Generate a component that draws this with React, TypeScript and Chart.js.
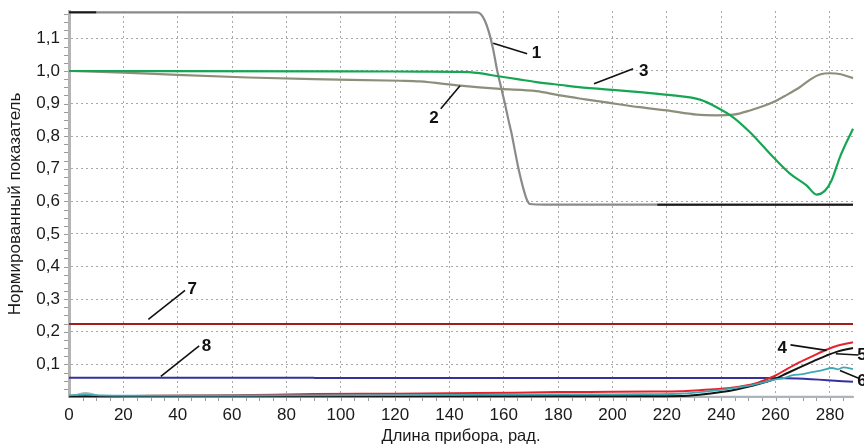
import React, { useEffect, useRef } from 'react';
import { Chart, registerables } from 'chart.js';

Chart.register(...registerables);

// ---- data ----
const xTickValues = [0, 20, 40, 60, 80, 100, 120, 140, 160, 180, 200, 220, 240, 260, 280];
const yTickValues = [0.1, 0.2, 0.3, 0.4, 0.5, 0.6, 0.7, 0.8, 0.9, 1.0, 1.1];

const curve1X = [0, 150, 151.5, 153, 154.5, 156, 157.6, 159, 160.4, 161.7, 162.9, 164.1, 165.3, 166.4, 167.4, 168.5, 169.6, 175, 288.5];
const curve1Y = [1.18, 1.18, 1.175, 1.155, 1.12, 1.07, 1.0, 0.95, 0.9, 0.85, 0.807, 0.755, 0.705, 0.665, 0.633, 0.605, 0.592, 0.59, 0.59];

const curve2X = [0, 20, 40, 66, 90, 122, 129, 144, 158.6, 172, 180.6, 190, 199, 210, 220, 231, 238, 244.4, 250.6, 259, 264, 268.9, 273, 276.3, 280, 284, 288.5];
const curve2Y = [1.0, 0.995, 0.988, 0.98, 0.975, 0.97, 0.968, 0.955, 0.945, 0.938, 0.925, 0.913, 0.902, 0.889, 0.879, 0.866, 0.864, 0.866, 0.879, 0.904, 0.926, 0.95, 0.975, 0.989, 0.993, 0.99, 0.978];

const curve3X = [0, 100, 129, 144, 150, 158.6, 165, 172, 181, 190.5, 200, 210, 222.3, 232.2, 238.3, 244.4, 250.6, 259.1, 265.3, 271.4, 275.1, 278.2, 280.6, 283.7, 288.5];
const curve3Y = [1.0, 0.999, 0.998, 0.997, 0.994, 0.983, 0.975, 0.966, 0.957, 0.948, 0.942, 0.935, 0.925, 0.912, 0.889, 0.858, 0.812, 0.736, 0.685, 0.649, 0.621, 0.633, 0.664, 0.736, 0.823];

const curve4X = [0, 10, 30, 60, 90, 120, 150, 180, 200, 215, 224.8, 232, 240, 246, 251.8, 256, 260, 264, 268.9, 274, 278.7, 283, 288.5];
const curve4Y = [0.002, 0.002, 0.004, 0.005, 0.009, 0.01, 0.012, 0.015, 0.016, 0.017, 0.018, 0.021, 0.025, 0.031, 0.04, 0.052, 0.066, 0.085, 0.107, 0.127, 0.145, 0.158, 0.168];

const curve5X = [0, 100, 150, 200, 224.8, 232, 240, 246, 251.8, 256, 260, 264, 268.9, 274, 278.7, 283, 288.5];
const curve5Y = [0.002, 0.002, 0.002, 0.002, 0.003, 0.007, 0.015, 0.024, 0.035, 0.045, 0.056, 0.072, 0.091, 0.11, 0.127, 0.14, 0.15];

const curve6X = [0, 3, 6, 9, 12, 20, 40, 80, 120, 150, 180, 200, 215, 224.8, 232, 240, 246, 251.8, 256, 260, 263, 266, 270, 273.4, 277, 280.8, 283, 285, 288.5];
const curve6Y = [0.005, 0.006, 0.007, 0.006, 0.005, 0.004, 0.004, 0.005, 0.006, 0.007, 0.008, 0.008, 0.009, 0.01, 0.015, 0.022, 0.029, 0.037, 0.046, 0.054, 0.058, 0.066, 0.07, 0.076, 0.082, 0.089, 0.085, 0.091, 0.086];

const curve7X = [0, 288.5];
const curve7Y = [0.224, 0.224];

const curve8X = [0, 90, 91, 200, 260, 288.5];
const curve8Y = [0.059, 0.059, 0.058, 0.058, 0.058, 0.047];

const baseX = [0, 3, 6, 8, 10, 13, 20, 288.5];
const baseY = [0.002, 0.007, 0.012, 0.01, 0.005, 0.002, 0.001, 0.001];

const blackTopX = [0, 10];
const blackTopY = [1.18, 1.18];
const blackLowX = [216.5, 288.5];
const blackLowY = [0.59, 0.59];

// callout labels (data space)
const calloutText = ['1', '2', '3', '4', '5', '6', '7', '8'];
const calloutLabelX = [172, 134.3, 211.5, 262.5, 291.8, 291.8, 45.3, 50.6];
const calloutLabelY = [1.055, 0.856, 1.0, 0.148, 0.127, 0.047, 0.33, 0.155];
const calloutFromX = [156.1, 143.9, 193.2, 265.5, 282.2, 283.7, 29.2, 33.8];
const calloutFromY = [1.085, 0.955, 0.961, 0.16, 0.1325, 0.081, 0.238, 0.063];
const calloutToX = [168.6, 136.8, 207.6, 278.8, 290.5, 290.8, 42.7, 47.9];
const calloutToY = [1.053, 0.884, 1.007, 0.143, 0.129, 0.057, 0.327, 0.157];

const pts = (xs: number[], ys: number[]) => xs.map((x, i) => ({ x, y: ys[i] }));

const FONT = '"Liberation Sans", Arial, sans-serif';

const minorTicksPlugin = {
  id: 'minorTicks',
  beforeDatasetsDraw(chart: any) {
    const { ctx, scales, chartArea } = chart;
    const xs = scales.x;
    const ys = scales.y;
    ctx.save();
    ctx.strokeStyle = '#9a9a9a';
    ctx.lineWidth = 1;
    ctx.beginPath();
    for (let v = 0.025; v < ys.max; v += 0.025) {
      const py = Math.round(ys.getPixelForValue(v)) + 0.5;
      ctx.moveTo(chartArea.left - 5, py);
      ctx.lineTo(chartArea.left - 1, py);
    }
    for (let v = 5; v < xs.max; v += 5) {
      const px = Math.round(xs.getPixelForValue(v)) + 0.5;
      ctx.moveTo(px, chartArea.bottom + 1);
      ctx.lineTo(px, chartArea.bottom + 4);
    }
    ctx.stroke();
    ctx.restore();
  },
};

const calloutPlugin = {
  id: 'callouts',
  afterDatasetsDraw(chart: any) {
    const { ctx, scales } = chart;
    const xs = scales.x;
    const ys = scales.y;
    ctx.save();
    ctx.strokeStyle = '#111';
    ctx.lineWidth = 1.6;
    ctx.fillStyle = '#111';
    ctx.font = `bold 17px ${FONT}`;
    ctx.textAlign = 'center';
    ctx.textBaseline = 'middle';
    calloutText.forEach((t, i) => {
      ctx.beginPath();
      ctx.moveTo(xs.getPixelForValue(calloutFromX[i]), ys.getPixelForValue(calloutFromY[i]));
      ctx.lineTo(xs.getPixelForValue(calloutToX[i]), ys.getPixelForValue(calloutToY[i]));
      ctx.stroke();
      ctx.fillText(t, xs.getPixelForValue(calloutLabelX[i]), ys.getPixelForValue(calloutLabelY[i]));
    });
    ctx.restore();
  },
};

export default function App() {
  const canvasRef = useRef<HTMLCanvasElement | null>(null);

  useEffect(() => {
    document.body.style.margin = '0';
    const canvas = canvasRef.current;
    if (!canvas) return;

    const line = (label: string, xs: number[], ys: number[], color: string, width = 2) => ({
      label,
      data: pts(xs, ys),
      borderColor: color,
      backgroundColor: color,
      borderWidth: width,
      pointRadius: 0,
      fill: false,
      cubicInterpolationMode: 'monotone' as const,
      clip: 4,
    });

    const chart = new Chart(canvas, {
      type: 'line',
      data: {
        datasets: [
          line('black-top', blackTopX, blackTopY, '#1a1a1a', 2),
          line('black-low', blackLowX, blackLowY, '#1a1a1a', 2),
          line('3', curve3X, curve3Y, '#16a653', 2.2),
          line('2', curve2X, curve2Y, '#8e8e7c', 2.2),
          line('1', curve1X, curve1Y, '#8a8a8a', 2.2),
          line('6', curve6X, curve6Y, '#3fa9b3', 1.8),
          line('5', curve5X, curve5Y, '#141414', 2),
          line('4', curve4X, curve4Y, '#e5222c', 2),
          line('8', curve8X, curve8Y, '#36309a', 2),
          line('7', curve7X, curve7Y, '#a31c1c', 2),
          line('base', baseX, baseY, '#a9b4bb', 2),
        ],
      },
      options: {
        responsive: true,
        maintainAspectRatio: false,
        animation: false,
        events: [],
        layout: { padding: { left: 0, right: 11, top: 11, bottom: 0 } },
        plugins: {
          legend: { display: false },
          tooltip: { enabled: false },
        },
        scales: {
          x: {
            type: 'linear',
            min: 0,
            max: 288.5,
            afterBuildTicks: (scale: any) => {
              scale.ticks = xTickValues.map((v) => ({ value: v }));
            },
            afterFit: (scale: any) => {
              scale.height = 49;
              scale.paddingLeft = 0;
              scale.paddingRight = 0;
            },
            ticks: {
              padding: 8,
              color: '#1a1a1a',
              font: { family: FONT, size: 17 },
              maxRotation: 0,
              autoSkip: false,
              callback: (v: any) => String(v),
            },
            grid: {
              color: '#a8a8a8',
              lineWidth: 1,
              drawTicks: false,
            },
            border: { display: true, color: '#b3bcc2', width: 2, dash: [2, 3] },
            title: {
              display: true,
              text: 'Длина прибора, рад.',
              color: '#1a1a1a',
              font: { family: FONT, size: 16.5 },
              padding: { top: 0, bottom: 0 },
            },
          },
          y: {
            type: 'linear',
            min: 0,
            max: 1.184,
            afterBuildTicks: (scale: any) => {
              scale.ticks = yTickValues.map((v) => ({ value: v }));
            },
            afterFit: (scale: any) => {
              scale.width = 69;
              scale.paddingTop = 0;
              scale.paddingBottom = 0;
            },
            ticks: {
              padding: 9,
              color: '#1a1a1a',
              font: { family: FONT, size: 17 },
              autoSkip: false,
              callback: (v: any) => Number(v).toFixed(1).replace('.', ','),
            },
            grid: {
              color: '#a8a8a8',
              lineWidth: 1,
              drawTicks: false,
            },
            border: { display: true, color: '#b4b4b4', width: 3, dash: [2, 3] },
            title: {
              display: true,
              text: 'Нормированный показатель',
              color: '#1a1a1a',
              font: { family: FONT, size: 17 },
              padding: { top: 5, bottom: 0 },
            },
          },
        },
      },
      plugins: [minorTicksPlugin, calloutPlugin],
    } as any);

    return () => chart.destroy();
  }, []);

  return (
    <div style={{ position: 'fixed', left: 0, top: 0, width: 864, height: 446, background: '#fff' }}>
      <canvas ref={canvasRef} />
    </div>
  );
}
